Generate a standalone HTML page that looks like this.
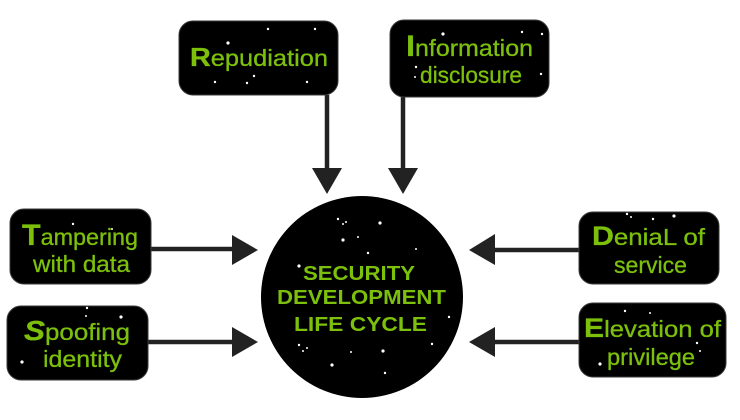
<!DOCTYPE html>
<html>
<head>
<meta charset="utf-8">
<style>
  html,body{margin:0;padding:0;background:#fff;}
  svg{display:block;}
  .t{font-family:"Liberation Sans",sans-serif;font-size:23px;fill:#7cc00c;stroke:#7cc00c;stroke-width:0.3;}
  .b{font-weight:bold;}
  .c{font-family:"Liberation Sans",sans-serif;font-weight:bold;font-size:20px;fill:#7cc00c;}
</style>
</head>
<body>
<svg width="740" height="420" viewBox="0 0 740 420" xmlns="http://www.w3.org/2000/svg">
  <!-- connectors -->
  <g stroke="#222" stroke-width="4.5" fill="none">
    <line x1="327" y1="95" x2="327" y2="170"/>
    <line x1="403" y1="97" x2="403" y2="170"/>
    <line x1="151" y1="249" x2="234" y2="249"/>
    <line x1="148" y1="342" x2="234" y2="342"/>
    <line x1="579" y1="250" x2="493" y2="250"/>
    <line x1="579" y1="342" x2="493" y2="342"/>
  </g>
  <g fill="#222">
    <polygon points="312,168 342,168 327,194"/>
    <polygon points="388,168 418,168 403,194"/>
    <polygon points="232,235 232,265 258,250"/>
    <polygon points="232,327 232,357 258,342"/>
    <polygon points="495,234 495,265 469,250"/>
    <polygon points="495,327 495,357 469,342"/>
  </g>

  <!-- boxes -->
  <g fill="#000" stroke="#3a3a3a" stroke-width="1">
    <rect x="179" y="21" width="159" height="74" rx="14"/>
    <rect x="390" y="20" width="159" height="77" rx="14"/>
    <rect x="10" y="209" width="141" height="75" rx="14"/>
    <rect x="7" y="306" width="141" height="74" rx="14"/>
    <rect x="579" y="212" width="140" height="72" rx="14"/>
    <rect x="579" y="303" width="147" height="74" rx="14"/>
  </g>

  <!-- central circle -->
  <circle cx="362" cy="297" r="101" fill="#000"/>

  <!-- stars -->
  <g fill="#fff">
    <circle cx="268" cy="29" r="1.2"/><circle cx="315" cy="29" r="1.2"/>
    <circle cx="228" cy="43" r="1.6"/><circle cx="215" cy="82" r="1.2"/>
    <circle cx="254" cy="76" r="1.2"/><circle cx="247" cy="83" r="1.2"/>
    <circle cx="307" cy="82" r="1.2"/>
    <circle cx="443" cy="34" r="1.6"/><circle cx="522" cy="32" r="1.2"/>
    <circle cx="542" cy="34" r="1.2"/><circle cx="416" cy="67" r="1.2"/>
    <circle cx="541" cy="74" r="1.2"/><circle cx="415" cy="77" r="1"/>
    <circle cx="73" cy="224" r="1.2"/><circle cx="112" cy="229" r="1"/>
    <circle cx="87" cy="308" r="1.2"/><circle cx="86" cy="316" r="1"/>
    <circle cx="121" cy="317" r="1.6"/><circle cx="22" cy="362" r="1.6"/>
    <circle cx="627" cy="214" r="1.2"/><circle cx="631" cy="217" r="1"/>
    <circle cx="653" cy="219" r="1.2"/><circle cx="674" cy="216" r="1.6"/>
    <circle cx="625" cy="311" r="1.2"/><circle cx="650" cy="313" r="1"/>
    <circle cx="697" cy="343" r="1.2"/><circle cx="700" cy="351" r="1"/>
    <circle cx="600" cy="364" r="1.6"/>
    <circle cx="338" cy="219" r="1.2"/><circle cx="346" cy="222" r="1"/>
    <circle cx="380" cy="223" r="1.6"/><circle cx="343" cy="224" r="1"/>
    <circle cx="343" cy="240" r="1.6"/><circle cx="368" cy="253" r="1.2"/>
    <circle cx="416" cy="249" r="1"/><circle cx="299" cy="266" r="1.6"/>
    <circle cx="449" cy="317" r="1.2"/><circle cx="432" cy="344" r="1.2"/>
    <circle cx="299" cy="345" r="1.2"/><circle cx="307" cy="348" r="1"/>
    <circle cx="383" cy="351" r="1.6"/><circle cx="303" cy="351" r="1"/>
    <circle cx="332" cy="365" r="1.6"/><circle cx="385" cy="373" r="1.2"/>
    <circle cx="351" cy="352" r="1"/><circle cx="358" cy="237" r="1"/>
  </g>

  <!-- box labels -->
  <text class="t" x="190" y="66" textLength="138" lengthAdjust="spacingAndGlyphs"><tspan class="b" font-size="26">R</tspan>epudiation</text>

  <text class="t" x="406" y="56" textLength="127" lengthAdjust="spacingAndGlyphs"><tspan class="b" font-size="30">I</tspan>nformation</text>
  <text class="t" x="420" y="83" textLength="102" lengthAdjust="spacingAndGlyphs">disclosure</text>

  <text class="t" x="22" y="245" textLength="116" lengthAdjust="spacingAndGlyphs"><tspan class="b" font-size="30">T</tspan>ampering</text>
  <text class="t" x="33" y="272" textLength="97" lengthAdjust="spacingAndGlyphs">with data</text>

  <text class="t" x="24" y="340" textLength="106" lengthAdjust="spacingAndGlyphs"><tspan class="b" font-size="28" font-style="italic">S</tspan>poofing</text>
  <text class="t" x="43" y="367" textLength="79" lengthAdjust="spacingAndGlyphs">identity</text>

  <text class="t" x="592" y="245" textLength="113" lengthAdjust="spacingAndGlyphs"><tspan class="b" font-size="27">D</tspan>eniaL of</text>
  <text class="t" x="614" y="273" textLength="73" lengthAdjust="spacingAndGlyphs">service</text>

  <text class="t" x="584" y="337" textLength="137" lengthAdjust="spacingAndGlyphs"><tspan class="b" font-size="27">E</tspan>levation of</text>
  <text class="t" x="607" y="365" textLength="88" lengthAdjust="spacingAndGlyphs">privilege</text>

  <!-- circle labels -->
  <text class="c" x="303" y="280" textLength="112" lengthAdjust="spacingAndGlyphs">SECURITY</text>
  <text class="c" x="277" y="304" textLength="169" lengthAdjust="spacingAndGlyphs">DEVELOPMENT</text>
  <text class="c" x="294" y="331" textLength="133" lengthAdjust="spacingAndGlyphs">LIFE CYCLE</text>
</svg>
</body>
</html>
